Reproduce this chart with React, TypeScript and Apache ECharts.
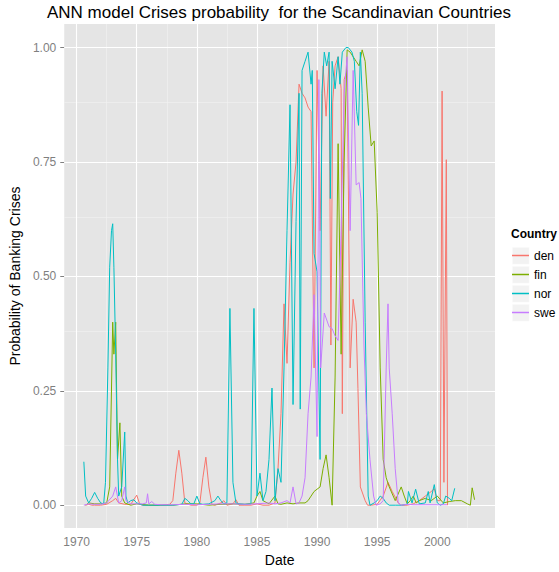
import React, { useEffect, useRef } from "react";
import * as echarts from "echarts";

const countries = ["den", "fin", "nor", "swe"];
const colors = ["#F8766D", "#7CAE00", "#00BFC4", "#C77CFF"];

const den: [number, number][] = [
  [1970.75, 0.0], [1971.0, 0.002], [1971.25, 0.0], [1971.5, 0.0], [1972.0, 0.0], [1972.5, 0.002],
  [1973.0, 0.01], [1973.25, 0.015], [1973.5, 0.005], [1974.0, 0.002], [1974.5, 0.002], [1975.0, 0.022],
  [1975.25, 0.002], [1975.5, 0.0], [1976.0, 0.0], [1977.0, 0.0], [1977.75, 0.002], [1978.0, 0.01],
  [1978.25, 0.07], [1978.5, 0.12], [1978.75, 0.07], [1979.0, 0.005], [1979.5, 0.0], [1980.0, 0.0],
  [1980.25, 0.005], [1980.5, 0.06], [1980.75, 0.105], [1981.0, 0.04], [1981.25, 0.002], [1981.5, 0.0],
  [1982.0, 0.005], [1982.25, 0.01], [1982.5, 0.0], [1983.0, 0.003], [1983.25, 0.012], [1983.5, 0.0],
  [1984.0, 0.0], [1984.5, 0.0], [1985.0, 0.003], [1985.5, 0.0], [1986.0, 0.0], [1986.5, 0.005],
  [1986.75, 0.08], [1987.0, 0.2], [1987.25, 0.44], [1987.5, 0.31], [1987.75, 0.53], [1988.0, 0.68],
  [1988.25, 0.75], [1988.5, 0.92], [1988.75, 0.9], [1989.0, 0.89], [1989.25, 0.87], [1989.5, 0.86],
  [1989.75, 0.3], [1990.0, 0.95], [1990.25, 0.6], [1990.5, 0.96], [1990.75, 0.85], [1991.0, 0.97],
  [1991.15, 0.35], [1991.3, 0.88], [1991.5, 0.96], [1991.75, 0.98], [1992.0, 0.91], [1992.1, 0.2],
  [1992.25, 0.93], [1992.5, 0.95], [1992.75, 0.3], [1993.0, 0.45], [1993.25, 0.4], [1993.4, 0.255],
  [1993.6, 0.04], [1994.0, 0.01], [1994.2, 0.0], [1994.5, 0.0], [1995.0, 0.002], [1995.5, 0.02],
  [1995.9, 0.05], [1996.25, 0.03], [1996.75, 0.005], [1997.0, 0.0], [1997.5, 0.0], [1998.0, 0.003],
  [1998.5, 0.01], [1999.0, 0.02], [1999.5, 0.03], [1999.75, 0.036], [2000.0, 0.01], [2000.25, 0.01],
  [2000.4, 0.905], [2000.55, 0.05], [2000.75, 0.755], [2000.85, 0.0],
];

const fin: [number, number][] = [
  [1970.75, 0.0], [1971.0, 0.005], [1971.5, 0.003], [1972.0, 0.003], [1972.5, 0.005], [1972.75, 0.04],
  [1973.0, 0.4], [1973.1, 0.33], [1973.25, 0.4], [1973.4, 0.1], [1973.6, 0.18], [1973.75, 0.02],
  [1974.0, 0.005], [1974.5, 0.0], [1975.0, 0.003], [1976.0, 0.0], [1977.0, 0.0], [1978.0, 0.0],
  [1979.0, 0.003], [1980.0, 0.003], [1981.0, 0.0], [1982.0, 0.002], [1983.0, 0.003], [1984.0, 0.002],
  [1984.75, 0.005], [1985.0, 0.02], [1985.25, 0.03], [1985.5, 0.01], [1986.0, 0.003], [1986.5, 0.02],
  [1986.75, 0.003], [1987.0, 0.002], [1987.5, 0.005], [1988.0, 0.003], [1988.5, 0.005], [1989.0, 0.005],
  [1989.25, 0.01], [1989.5, 0.02], [1989.75, 0.03], [1990.0, 0.035], [1990.25, 0.04], [1990.5, 0.08],
  [1990.75, 0.11], [1991.0, 0.06], [1991.25, 0.0], [1991.5, 0.28], [1991.75, 0.79], [1992.0, 0.33],
  [1992.25, 0.75], [1992.5, 0.995], [1992.75, 0.99], [1993.0, 0.98], [1993.25, 0.97], [1993.5, 0.96],
  [1993.75, 0.995], [1994.0, 0.97], [1994.25, 0.87], [1994.5, 0.785], [1994.75, 0.796], [1995.0, 0.64],
  [1995.25, 0.3], [1995.5, 0.1], [1995.75, 0.06], [1996.0, 0.04], [1996.5, 0.01], [1997.0, 0.04],
  [1997.25, 0.02], [1997.5, 0.003], [1997.75, 0.01], [1998.0, 0.02], [1998.25, 0.005], [1998.5, 0.01],
  [1999.0, 0.015], [1999.5, 0.01], [2000.0, 0.02], [2000.5, 0.005], [2001.0, 0.008], [2001.5, 0.01],
  [2002.0, 0.01], [2002.5, 0.003], [2002.75, 0.0], [2002.9, 0.038], [2003.1, 0.012],
];

const nor: [number, number][] = [
  [1970.6, 0.095], [1970.75, 0.02], [1971.0, 0.005], [1971.25, 0.015], [1971.5, 0.028], [1971.75, 0.015],
  [1972.0, 0.005], [1972.25, 0.003], [1972.4, 0.05], [1972.6, 0.3], [1972.75, 0.52], [1972.9, 0.6],
  [1973.0, 0.615], [1973.1, 0.52], [1973.25, 0.33], [1973.4, 0.1], [1973.5, 0.02], [1973.75, 0.04],
  [1974.0, 0.16], [1974.1, 0.02], [1974.25, 0.005], [1974.5, 0.01], [1974.75, 0.012], [1975.0, 0.005],
  [1975.5, 0.0], [1976.0, 0.0], [1977.0, 0.0], [1978.0, 0.0], [1978.75, 0.002], [1979.0, 0.015],
  [1979.25, 0.01], [1979.5, 0.003], [1979.75, 0.003], [1980.0, 0.02], [1980.25, 0.003], [1980.5, 0.002],
  [1981.0, 0.003], [1981.5, 0.01], [1981.75, 0.02], [1982.0, 0.01], [1982.25, 0.003], [1982.5, 0.005],
  [1982.75, 0.43], [1983.0, 0.05], [1983.25, 0.005], [1983.5, 0.003], [1984.0, 0.002], [1984.5, 0.003],
  [1984.75, 0.43], [1985.0, 0.02], [1985.25, 0.07], [1985.5, 0.01], [1985.75, 0.03], [1986.0, 0.1],
  [1986.25, 0.256], [1986.5, 0.01], [1986.75, 0.08], [1987.0, 0.05], [1987.25, 0.3], [1987.5, 0.6],
  [1987.75, 0.875], [1988.0, 0.22], [1988.25, 0.62], [1988.5, 0.9], [1988.6, 0.21], [1988.75, 0.95],
  [1989.0, 0.97], [1989.25, 0.99], [1989.5, 0.92], [1989.6, 0.95], [1989.75, 0.55], [1990.0, 0.51],
  [1990.25, 0.1], [1990.4, 0.9], [1990.6, 0.99], [1990.8, 0.96], [1991.0, 0.99], [1991.1, 0.67],
  [1991.25, 0.97], [1991.5, 0.91], [1991.75, 0.98], [1991.9, 0.92], [1992.1, 0.99], [1992.4, 1.0],
  [1992.6, 1.0], [1992.9, 0.99], [1993.1, 0.97], [1993.3, 0.86], [1993.45, 0.83], [1993.6, 0.99],
  [1993.75, 0.9], [1994.0, 0.4], [1994.25, 0.02], [1994.4, 0.0], [1994.75, 0.005], [1995.0, 0.01],
  [1995.25, 0.02], [1995.5, 0.015], [1995.75, 0.005], [1996.0, 0.0], [1996.5, 0.0], [1997.0, 0.0],
  [1997.5, 0.002], [1997.6, 0.03], [1997.9, 0.005], [1998.2, 0.035], [1998.5, 0.003], [1999.0, 0.005],
  [1999.25, 0.03], [1999.4, 0.005], [1999.75, 0.045], [2000.0, 0.005], [2000.25, 0.0], [2000.5, 0.003],
  [2000.7, 0.02], [2001.0, 0.015], [2001.2, 0.01], [2001.45, 0.037],
];

const swe: [number, number][] = [
  [1970.6, 0.0], [1971.0, 0.003], [1971.5, 0.002], [1972.0, 0.002], [1972.5, 0.005], [1973.0, 0.02],
  [1973.25, 0.04], [1973.5, 0.005], [1973.75, 0.01], [1974.0, 0.04], [1974.1, 0.01], [1974.5, 0.003],
  [1975.0, 0.003], [1975.5, 0.003], [1975.8, 0.005], [1975.9, 0.025], [1976.0, 0.003], [1976.25, 0.008],
  [1976.5, 0.002], [1977.0, 0.001], [1978.0, 0.001], [1979.0, 0.002], [1980.0, 0.001], [1981.0, 0.002],
  [1982.0, 0.003], [1983.0, 0.003], [1984.0, 0.002], [1985.0, 0.003], [1986.0, 0.005], [1986.5, 0.003],
  [1987.0, 0.005], [1987.5, 0.01], [1987.75, 0.005], [1988.0, 0.04], [1988.25, 0.003], [1988.5, 0.005],
  [1988.75, 0.02], [1989.0, 0.06], [1989.25, 0.2], [1989.5, 0.28], [1989.75, 0.46], [1990.0, 0.15],
  [1990.15, 0.93], [1990.3, 0.3], [1990.6, 0.42], [1991.0, 0.39], [1991.25, 0.386], [1991.5, 0.37],
  [1991.75, 0.36], [1992.0, 0.6], [1992.25, 0.9], [1992.5, 0.98], [1992.75, 0.6], [1993.0, 0.95],
  [1993.25, 0.7], [1993.5, 0.705], [1993.65, 0.67], [1993.9, 0.35], [1994.1, 0.2], [1994.4, 0.1],
  [1994.7, 0.02], [1994.9, 0.0], [1995.25, 0.003], [1995.5, 0.01], [1995.75, 0.3], [1995.9, 0.44],
  [1996.0, 0.3], [1996.25, 0.2], [1996.5, 0.08], [1996.75, 0.005], [1997.0, 0.0], [1997.5, 0.002],
  [1998.0, 0.001], [1999.0, 0.001], [2000.0, 0.001], [2000.8, 0.001],
];

const seriesData = [den, fin, nor, swe];

const xTicks = [1970, 1975, 1980, 1985, 1990, 1995, 2000];
const xMinor = [1972.5, 1977.5, 1982.5, 1987.5, 1992.5, 1997.5, 2002.5];
const yTicks = [0, 0.25, 0.5, 0.75, 1.0];
const yMinor = [0.125, 0.375, 0.625, 0.875];

export default function App() {
  const ref = useRef<HTMLDivElement>(null);
  useEffect(() => {
    if (!ref.current) return;
    const chart = echarts.init(ref.current, undefined, { renderer: "svg" });
    const font = "'Liberation Sans', Arial, sans-serif";
    const gridLines = {
      type: "line",
      data: [],
      silent: true,
      z: 1,
      markLine: {
        silent: true,
        z: 1,
        symbol: ["none", "none"],
        label: { show: false },
        animation: false,
        data: [
          ...xMinor.map((v) => ({ xAxis: v, lineStyle: { color: "#F2F2F2", width: 0.6, type: "solid" } })),
          ...yMinor.map((v) => ({ yAxis: v, lineStyle: { color: "#F2F2F2", width: 0.6, type: "solid" } })),
          ...xTicks.map((v) => ({ xAxis: v, lineStyle: { color: "#FFFFFF", width: 1.1, type: "solid" } })),
          ...yTicks.map((v) => ({ yAxis: v, lineStyle: { color: "#FFFFFF", width: 1.1, type: "solid" } })),
        ],
      },
    };
    chart.setOption({
      animation: false,
      textStyle: { fontFamily: font },
      title: [
        {
          text: "ANN model Crises probability  for the Scandinavian Countries",
          left: 47,
          top: 4,
          padding: 0,
          textStyle: { fontSize: 17, fontWeight: "normal", color: "#000", fontFamily: font },
        },
        {
          text: "Country",
          left: 511,
          top: 228,
          padding: 0,
          textStyle: { fontSize: 12, fontWeight: "bold", color: "#000", fontFamily: font },
        },
      ],
      grid: {
        left: 56,
        right: 64,
        top: 24,
        bottom: 41,
        show: true,
        backgroundColor: "#E5E5E5",
        borderWidth: 0,
      },
      legend: {
        orient: "vertical",
        left: 512,
        top: 247,
        padding: 0,
        itemWidth: 17,
        itemHeight: 1.5,
        itemGap: 2,
        icon: "rect",
        data: countries,
        textStyle: { fontSize: 12, color: "#000", lineHeight: 17, fontFamily: font },
      },
      graphic: countries.map((c, i) => ({
        type: "rect",
        left: 512,
        top: 247 + i * 19,
        z: 1,
        shape: { width: 17, height: 17 },
        style: { fill: "#F2F2F2", stroke: "#FFFFFF", lineWidth: 0.5 },
      })),
      xAxis: {
        type: "value",
        min: 1968.97,
        max: 2004.8,
        axisLine: { show: false },
        axisTick: { show: true, length: 4, lineStyle: { color: "#7F7F7F" }, customValues: xTicks },
        axisLabel: {
          customValues: xTicks,
          color: "#7F7F7F",
          fontSize: 12,
          margin: 8,
          fontFamily: font,
          formatter: (v: number) => String(Math.round(v)),
        },
        splitLine: { show: false },
        name: "Date",
        nameLocation: "middle",
        nameGap: 23,
        nameTextStyle: { fontSize: 14, color: "#000", fontFamily: font },
      },
      yAxis: {
        type: "value",
        min: -0.05,
        max: 1.0515,
        axisLine: { show: false },
        axisTick: { show: true, length: 4, lineStyle: { color: "#7F7F7F" }, customValues: yTicks },
        axisLabel: {
          customValues: yTicks,
          color: "#7F7F7F",
          fontSize: 12,
          margin: 8,
          fontFamily: font,
          formatter: (v: number) => v.toFixed(2),
        },
        splitLine: { show: false },
        name: "Probability of Banking Crises",
        nameLocation: "middle",
        nameRotate: 90,
        nameGap: 30,
        nameTextStyle: { fontSize: 14, color: "#000", fontFamily: font },
      },
      series: [
        gridLines,
        ...countries.map((c, i) => ({
          name: c,
          type: "line",
          data: seriesData[i],
          showSymbol: false,
          symbol: "none",
          z: 2,
          color: colors[i],
          lineStyle: { width: 1, color: colors[i] },
          itemStyle: { color: colors[i] },
        })),
      ],
    });
    return () => chart.dispose();
  }, []);
  return (
    <div
      ref={ref}
      style={{ position: "absolute", left: 0, top: 0, width: 559, height: 572 }}
    />
  );
}
